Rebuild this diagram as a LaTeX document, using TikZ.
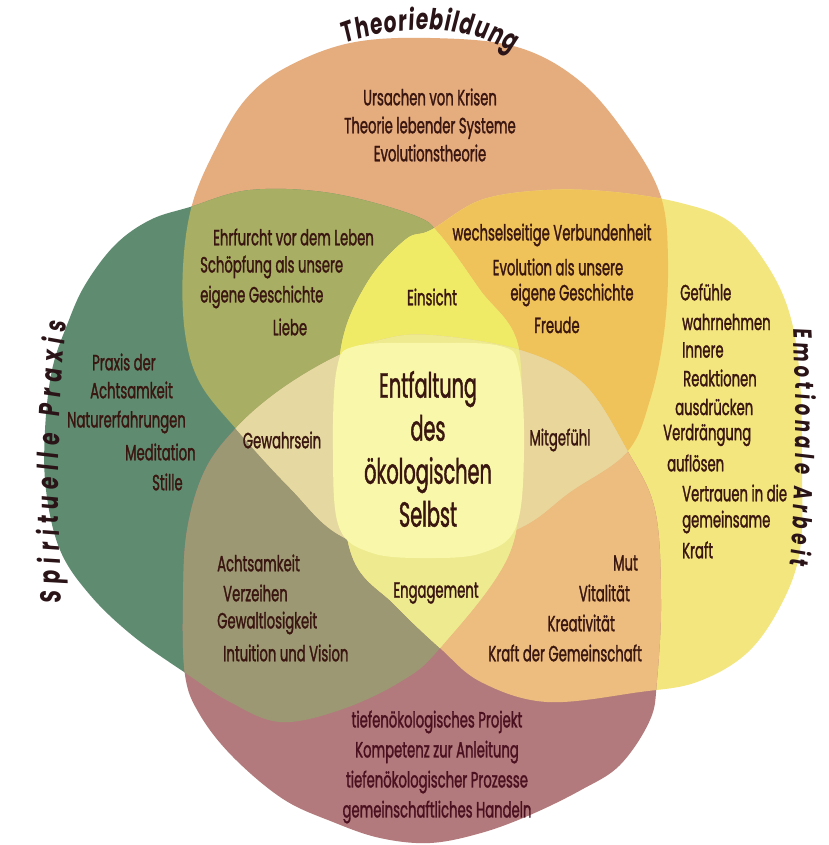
\documentclass[tikz,border=0pt]{standalone}
\usepackage{fontspec}
\setmainfont{Poppins}
\newfontfamily\bodyfont{Poppins}[FakeStretch=0.6,FakeBold=1.3]
\newfontfamily\bigfont{Poppins}[FakeStretch=0.55,FakeBold=1.2]
\newfontfamily\titlefont{Poppins}[FakeStretch=0.7,FakeSlant=0.1]
\usetikzlibrary{decorations.text}
\definecolor{cT}{HTML}{E5AC7E}
\definecolor{cL}{HTML}{5F8C71}
\definecolor{cR}{HTML}{F4E67F}
\definecolor{cB}{HTML}{B27A7C}
\definecolor{cTL}{HTML}{A8AE63}
\definecolor{cTR}{HTML}{EFC35A}
\definecolor{cBL}{HTML}{9D9874}
\definecolor{cBR}{HTML}{ECBD7F}
\definecolor{cTB}{HTML}{E8CF95}
\definecolor{cLR}{HTML}{EEE88C}
\definecolor{cTLR}{HTML}{EFEB66}
\definecolor{cTLB}{HTML}{E5D9A1}
\definecolor{cTRB}{HTML}{E9D69A}
\definecolor{cLRB}{HTML}{EEEA8F}
\definecolor{cC}{HTML}{F9F8AA}
\definecolor{ink}{HTML}{3A1610}
\definecolor{inkT}{HTML}{2A1418}
\definecolor{inkB}{HTML}{4A1020}
\newcommand\pT{plot[smooth cycle, tension=0.6] coordinates {(350,43) (430,38) (517,47) (581,82) (630,140) (661,197) (668,260) (664,333) (650,400) (627,452) (570,492) (520,528) (430,560) (343,537) (290,488) (237,430) (200,383) (185,333) (183,267) (192,205) (215,150) (245,100) (285,68)}}
\newcommand\pL{plot[smooth cycle, tension=0.6] coordinates {(190,207) (250,190) (330,193) (413,215) (440,235) (480,290) (518,345) (519,450) (510,552) (440,648) (400,682) (340,710) (280,722) (230,702) (187,674) (133,636) (90,595) (60,550) (46,490) (45,430) (52,370) (67,325) (85,285) (115,245) (150,220)}}
\newcommand\pR{plot[smooth cycle, tension=0.6] coordinates {(431,230) (481,200) (547,190) (614,192) (681,203) (730,222) (767,265) (790,315) (800,380) (802,470) (800,550) (781,605) (747,653) (697,682) (640,692) (547,702) (481,682) (440,648) (395,605) (352,556) (339,450) (341,348) (367,283) (405,240)}}
\newcommand\pB{plot[smooth cycle, tension=0.6] coordinates {(430,335) (520,350) (583,383) (627,450) (655,510) (661,600) (657,680) (650,720) (620,765) (581,790) (530,815) (481,833) (430,843) (380,838) (333,822) (283,799) (233,757) (200,715) (185,675) (183,600) (187,530) (205,470) (237,427) (280,390) (333,358) (380,340)}}
\newcommand\pC{plot[smooth cycle, tension=0.6] coordinates {(428,343) (500,346) (519,368) (524,450) (516,527) (482,553) (428,558) (372,553) (339,527) (333,450) (337,368) (356,346)}}
\tikzset{
  txt/.style={font={\bodyfont\fontsize{22}{28}\selectfont}, text=ink, inner sep=0pt},
  big/.style={font={\bigfont\fontsize{35}{43}\selectfont}, text=ink, inner sep=0pt, align=center},
}
\begin{document}
\begin{tikzpicture}[x=1pt,y=-1pt]
\useasboundingbox (0,0) rectangle (828,845);
\fill[white] (0,0) rectangle (828,845);
% single blobs
\fill[cT] \pT;
\fill[cL] \pL;
\fill[cR] \pR;
\fill[cB] \pB;
% pairs
\begin{scope}\clip \pT; \fill[cTL] \pL; \end{scope}
\begin{scope}\clip \pT; \fill[cTR] \pR; \end{scope}
\begin{scope}\clip \pB; \fill[cBL] \pL; \end{scope}
\begin{scope}\clip \pB; \fill[cBR] \pR; \end{scope}
\begin{scope}\clip \pT; \fill[cTB] \pB; \end{scope}
\begin{scope}\clip \pL; \fill[cLR] \pR; \end{scope}
% triples
\begin{scope}\clip \pT; \clip \pL; \fill[cTLR] \pR; \end{scope}
\begin{scope}\clip \pT; \clip \pL; \fill[cTLB] \pB; \end{scope}
\begin{scope}\clip \pT; \clip \pR; \fill[cTRB] \pB; \end{scope}
\begin{scope}\clip \pL; \clip \pR; \fill[cLRB] \pB; \end{scope}
% centre
\fill[cC] \pC;

% titles
\path[decorate, decoration={text along path, text align=fit to path,
  text={|\color{inkT}\titlefont\bfseries\fontsize{29}{29}\selectfont|Theoriebildung}}]
  (345,44) .. controls (397,24) and (463,24) .. (512,52);
\path[decorate, decoration={text along path, text align=fit to path,
  text={|\color{inkT}\titlefont\bfseries\fontsize{29}{29}\selectfont|Spirituelle Praxis}}]
  (62,603) .. controls (57,520) and (57,420) .. (66,322);
\path[decorate, decoration={text along path, text align=fit to path,
  text={|\color{inkT}\titlefont\bfseries\fontsize{26}{26}\selectfont|Emotionale Arbeit}}]
  (793,328) .. controls (797,400) and (797,480) .. (790,565);

% top
\node[txt, align=center] (ttop) at (430,125) {Ursachen von Krisen\\Theorie lebender Systeme\\Evolutionstheorie};
% top-left
\node[txt, anchor=west] (tl1) at (213,237) {Ehrfurcht vor dem Leben};
\node[txt, anchor=west] (tl2) at (200,267) {Schöpfung als unsere};
\node[txt, anchor=west] (tl3) at (200,297) {eigene Geschichte};
\node[txt] (tl4) at (290,327) {Liebe};
% top-right
\node[txt] (tr1) at (552,235) {wechselseitige Verbundenheit};
\node[txt] (tr2) at (558,267) {Evolution als unsere};
\node[txt] (tr3) at (572,295) {eigene Geschichte};
\node[txt] (tr4) at (557,325) {Freude};
\node[txt] (eins) at (432,297) {Einsicht};
% right
\node[txt, anchor=west] (r1) at (680,292) {Gefühle};
\node[txt, anchor=west] (r2) at (682,322) {wahrnehmen};
\node[txt, anchor=west] (r3) at (682,350) {Innere};
\node[txt, anchor=west] (r4) at (683,378) {Reaktionen};
\node[txt, anchor=west] (r5) at (675,407) {ausdrücken};
\node[txt, anchor=west] (r6) at (663,435) {Verdrängung};
\node[txt, anchor=west] (r7) at (667,463) {auflösen};
\node[txt, anchor=west] (r8) at (682,493) {Vertrauen in die};
\node[txt, anchor=west] (r9) at (682,522) {gemeinsame};
\node[txt, anchor=west] (r10) at (682,550) {Kraft};
% left
\node[txt, anchor=west] (l1) at (92,362) {Praxis der};
\node[txt, anchor=west] (l2) at (90,390) {Achtsamkeit};
\node[txt, anchor=west] (l3) at (67,422) {Naturerfahrungen};
\node[txt, anchor=west] (l4) at (125,452) {Meditation};
\node[txt, anchor=west] (l5) at (152,482) {Stille};
% middle ring
\node[txt] (gew) at (282,440) {Gewahrsein};
\node[txt] (mit) at (560,440) {Mitgefühl};
\node[txt] (eng) at (436,593) {Engagement};
% centre
\node[big] (ctr) at (428,449) {Entfaltung\\des\\ökologischen\\Selbst};
% bottom-left
\node[txt, anchor=west] (bl1) at (217,563) {Achtsamkeit};
\node[txt, anchor=west] (bl2) at (223,593) {Verzeihen};
\node[txt, anchor=west] (bl3) at (217,623) {Gewaltlosigkeit};
\node[txt, anchor=west] (bl4) at (223,653) {Intuition und Vision};
% bottom-right
\node[txt, anchor=east] (br1) at (638,563) {Mut};
\node[txt, anchor=east] (br2) at (630,593) {Vitalität};
\node[txt, anchor=east] (br3) at (615,623) {Kreativität};
\node[txt, anchor=east] (br4) at (642,653) {Kraft der Gemeinschaft};
% bottom
\node[txt, align=center, text=inkB, font={\bodyfont\fontsize{22}{30}\selectfont}] (tbot) at (437,767) {tiefenökologisches Projekt\\Kompetenz zur Anleitung\\tiefenökologischer Prozesse\\gemeinschaftliches Handeln};
\end{tikzpicture}
\end{document}
